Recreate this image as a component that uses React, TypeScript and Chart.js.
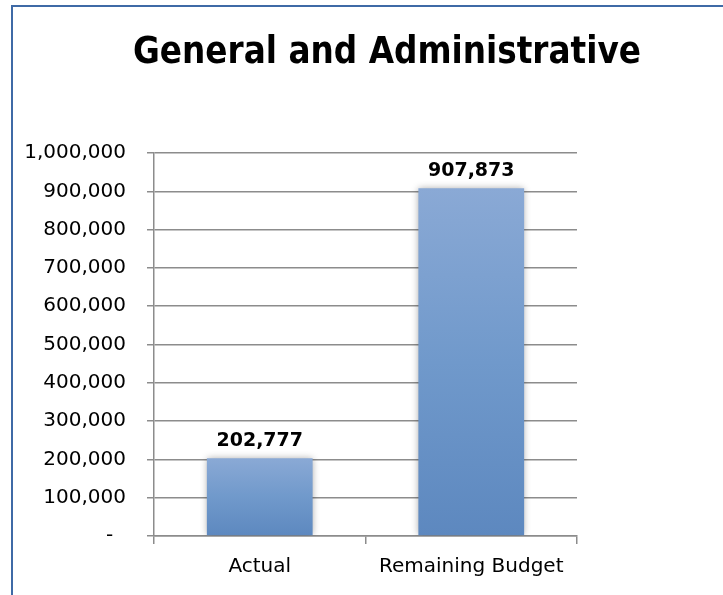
import React, { useEffect, useRef } from "react";
import { Chart, registerables } from "chart.js";

Chart.register(...registerables);

const title = "General and Administrative";
const categories = ["Actual", "Remaining Budget"];
const values = [202777, 907873];
const yMin = 0;
const yMax = 1000000;
const yStep = 100000;

const fmt = (v: number) => v.toLocaleString("en-US");

export default function App() {
  const ref = useRef<HTMLCanvasElement | null>(null);

  useEffect(() => {
    document.body.style.margin = "0";
    const canvas = ref.current;
    if (!canvas) return;

    const borderPlugin = {
      id: "frameBorder",
      beforeDraw(chart: any) {
        const ctx = chart.ctx;
        ctx.save();
        ctx.fillStyle = "#ffffff";
        ctx.fillRect(0, 0, chart.width, chart.height);
        ctx.strokeStyle = "#3f6aa6";
        ctx.lineWidth = 2;
        ctx.beginPath();
        ctx.moveTo(12, chart.height);
        ctx.lineTo(12, 6);
        ctx.lineTo(chart.width, 6);
        ctx.stroke();
        ctx.restore();
      },
    };

    const titlePlugin = {
      id: "fittedTitle",
      afterDraw(chart: any) {
        const ctx = chart.ctx;
        ctx.save();
        ctx.font = "bold 37px 'DejaVu Sans'";
        ctx.fillStyle = "#000000";
        ctx.textAlign = "center";
        ctx.textBaseline = "alphabetic";
        const w = ctx.measureText(title).width;
        const sx = 508 / w;
        ctx.translate(387, 63);
        ctx.scale(sx, 1);
        ctx.fillText(title, 0, 0);
        ctx.restore();
      },
    };

    const shadowPlugin = {
      id: "barShadow",
      beforeDatasetsDraw(chart: any) {
        const ctx = chart.ctx;
        ctx.save();
        ctx.shadowColor = "rgba(0,0,0,0.35)";
        ctx.shadowBlur = 7;
        ctx.shadowOffsetX = 0;
        ctx.shadowOffsetY = 0;
      },
      afterDatasetsDraw(chart: any) {
        chart.ctx.restore();
      },
    };

    const labelPlugin = {
      id: "valueLabels",
      afterDatasetsDraw(chart: any) {
        const ctx = chart.ctx;
        const meta = chart.getDatasetMeta(0);
        ctx.save();
        ctx.font = "bold 19px 'DejaVu Sans'";
        ctx.fillStyle = "#000000";
        ctx.textAlign = "center";
        ctx.textBaseline = "alphabetic";
        meta.data.forEach((bar: any, i: number) => {
          ctx.fillText(fmt(values[i]), bar.x, bar.y - 12);
        });
        ctx.restore();
      },
    };

    const chart = new Chart(canvas, {
      type: "bar",
      data: {
        labels: categories,
        datasets: [
          {
            data: values,
            backgroundColor: (c: any) => {
              const ch = c.chart;
              if (!ch.chartArea || c.raw == null) return "#6f99cb";
              const ys = ch.scales.y;
              const top = ys.getPixelForValue(c.raw);
              const bottom = ys.getPixelForValue(0);
              const g = ch.ctx.createLinearGradient(0, top, 0, bottom);
              g.addColorStop(0, "#8aa9d5");
              g.addColorStop(0.5, "#7099cb");
              g.addColorStop(1, "#5d88bf");
              return g;
            },
            borderWidth: 0,
            barPercentage: 0.5,
            categoryPercentage: 1,
          },
        ],
      },
      options: {
        responsive: false,
        animation: false,
        layout: { padding: { top: 153, left: 0, right: 146, bottom: 0 } },
        plugins: {
          legend: { display: false },
          tooltip: { enabled: false },
          title: { display: false },
        },
        scales: {
          x: {
            offset: true,
            grid: {
              offset: true,
              drawOnChartArea: false,
              drawTicks: true,
              tickLength: 8,
              color: "#8c8c8c",
              lineWidth: 1.5,
            },
            border: { display: true, color: "#8c8c8c", width: 1.5 },
            ticks: {
              color: "#000000",
              font: { family: "'DejaVu Sans'", size: 20 },
              padding: 11,
              maxRotation: 0,
            },
            afterFit: (s: any) => {
              s.height = 59;
            },
          },
          y: {
            min: yMin,
            max: yMax,
            grid: {
              color: "#8c8c8c",
              lineWidth: 1.5,
              drawTicks: true,
              tickLength: 7,
            },
            border: { display: true, color: "#8c8c8c", width: 1.5 },
            ticks: {
              stepSize: yStep,
              color: "#000000",
              font: { family: "'DejaVu Sans'", size: 20 },
              padding: 21,
              callback: (v: any) => (Number(v) === 0 ? "-  " : fmt(Number(v))),
            },
            afterFit: (s: any) => {
              s.width = 154;
            },
          },
        },
      },
      plugins: [borderPlugin, shadowPlugin, labelPlugin, titlePlugin],
    });

    return () => chart.destroy();
  }, []);

  return (
    <div style={{ width: 723, height: 595 }}>
      <canvas ref={ref} width={723} height={595} />
    </div>
  );
}
